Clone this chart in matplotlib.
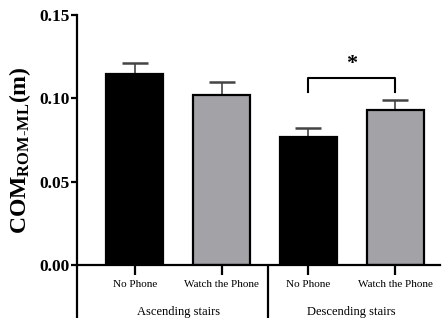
import matplotlib
matplotlib.use("Agg")
import matplotlib.pyplot as plt
import matplotlib.transforms as mtrans

plt.rcParams['font.family'] = ['Liberation Serif', 'DejaVu Serif']
plt.rcParams['mathtext.fontset'] = 'custom'
plt.rcParams['mathtext.rm'] = 'Liberation Serif'
plt.rcParams['mathtext.bf'] = 'Liberation Serif:bold'

conditions = ["No Phone", "Watch the Phone", "No Phone", "Watch the Phone"]
groups = ["Ascending stairs", "Descending stairs"]
means = [0.1146, 0.1020, 0.0768, 0.0930]
errors = [0.0066, 0.0078, 0.0054, 0.0060]
colors = ["#000000", "#a3a2a7", "#000000", "#a3a2a7"]
yticks = [0.00, 0.05, 0.10, 0.15]
ytick_labels = ["0.00", "0.05", "0.10", "0.15"]

fig = plt.figure(figsize=(4.43, 3.25), dpi=100)
ax = fig.add_axes([77/443, 60/325, 363/443, 250/325])

x = list(range(len(means)))
ax.bar(x, means, width=0.655, color=colors, edgecolor="black", linewidth=1.6, zorder=2)
ax.errorbar(x, means, yerr=[[0]*len(errors), errors], fmt="none", ecolor="#444444",
            elinewidth=1.2, capsize=9.7, capthick=1.8, zorder=1)

ax.set_xlim(-0.667, 3.517)
ax.set_ylim(0, 0.15)
ax.set_yticks(yticks)
ax.set_yticklabels(ytick_labels, fontweight="bold", fontsize=12.5)
ax.set_xticks(x)
ax.set_xticklabels(conditions, fontsize=8)
ax.tick_params(axis="y", length=4.5, width=1.6, pad=1)
ax.tick_params(axis="x", length=7, width=1.6, pad=4)
for s in ["top", "right"]:
    ax.spines[s].set_visible(False)
ax.spines["left"].set_linewidth(1.6)
ax.spines["bottom"].set_linewidth(1.6)

ax.set_ylabel(r"$\mathbf{COM_{ROM\text{-}ML}(m)}$", fontsize=17)
ax.yaxis.set_label_coords(-0.122, 0.46)

trans = mtrans.blended_transform_factory(ax.transData, ax.transAxes)
for xs in [-0.667, 1.53]:
    ax.plot([xs, xs], [0, -0.212], transform=trans, color="black", lw=1.6,
            clip_on=False, solid_capstyle="butt")
for i, g in enumerate(groups):
    ax.text(2*i + 0.5, -0.188, g, transform=trans, ha="center", va="center", fontsize=9)

# significance bracket
bx0, bx1 = 2, 3
by, bdrop = 0.1124, 0.1038
ax.plot([bx0, bx0, bx1, bx1], [bdrop, by, by, bdrop], color="black", lw=1.5, zorder=3)
ax.text((bx0 + bx1)/2, by + 0.0022, "*", ha="center", va="bottom", fontsize=16, fontweight="bold")

fig.savefig("out.png", dpi=100)
